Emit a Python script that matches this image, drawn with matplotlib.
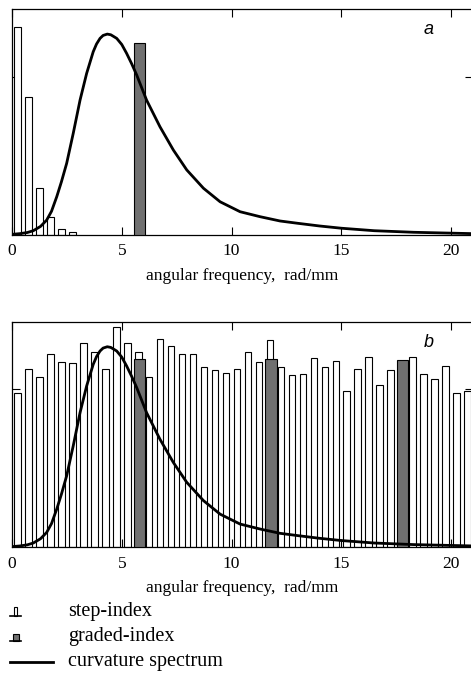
import numpy as np
import matplotlib
matplotlib.use("Agg")
import matplotlib.pyplot as plt
from matplotlib.patches import Rectangle

plt.rcParams['font.family'] = ['Liberation Serif', 'DejaVu Serif']

# step-index spectrum, panel a (only first few nonzero)
step_a_x = [0.25, 0.75, 1.25, 1.75, 2.25, 2.75]
step_a_h = [0.919, 0.609, 0.207, 0.081, 0.025, 0.012]

# step-index spectrum, panel b
step_b_x = np.arange(0.25, 21.0, 0.5)
step_b_h = [0.684, 0.792, 0.756, 0.857, 0.823, 0.815, 0.906, 0.864, 0.792, 0.977,
            0.906, 0.864, 0.756, 0.923, 0.892, 0.857, 0.857, 0.798, 0.786, 0.774,
            0.792, 0.864, 0.823, 0.917, 0.798, 0.762, 0.768, 0.839, 0.798, 0.827,
            0.691, 0.792, 0.843, 0.721, 0.786, 0.800, 0.843, 0.768, 0.745, 0.802,
            0.684, 0.694]

# graded-index
graded_a_x = [5.8]
graded_a_h = [0.848]
graded_b_x = [5.8, 11.8, 17.8]
graded_b_h = [0.835, 0.835, 0.832]

# curvature spectrum
curve_x = [0.0, 0.36, 0.7, 0.97, 1.3, 1.58, 1.8, 2.04, 2.25, 2.49, 2.79, 3.10,
           3.40, 3.70, 3.85, 4.01, 4.15, 4.34, 4.50, 4.62, 4.77, 5.0, 5.22, 5.45,
           5.68, 6.13, 6.74, 7.35, 7.96, 8.72, 9.48, 10.39, 11.30, 12.21, 13.0,
           14.0, 15.0, 16.5, 18.3, 21.0]
curve_y = [0.003, 0.006, 0.011, 0.019, 0.038, 0.066, 0.105, 0.17, 0.235, 0.317,
           0.45, 0.597, 0.715, 0.811, 0.845, 0.870, 0.883, 0.889, 0.886, 0.879,
           0.870, 0.843, 0.804, 0.758, 0.708, 0.597, 0.479, 0.376, 0.288, 0.207,
           0.147, 0.103, 0.081, 0.062, 0.052, 0.040, 0.030, 0.019, 0.012, 0.006]

W, H = 471, 675
fig = plt.figure(figsize=(W / 100, H / 100), dpi=100)


def panel(top_px, bot_px, sx, sh, gx, gh, letter):
    ax = fig.add_axes([12 / W, 1 - bot_px / H, 461 / W, (bot_px - top_px) / H])
    ax.bar(sx, sh, width=0.3, facecolor='white', edgecolor='black', linewidth=0.8, zorder=2)
    ax.bar(gx, gh, width=0.52, facecolor='#707070', edgecolor='black', linewidth=0.8, zorder=3)
    ax.plot(curve_x, curve_y, color='black', lw=2.0, zorder=4, solid_joinstyle='round')
    ax.set_xlim(0, 21)
    ax.set_ylim(0, 1)
    ax.set_xticks([0, 5, 10, 15, 20])
    ax.set_yticks([0.7])
    ax.set_yticklabels([])
    ax.tick_params(direction='in', top=True, right=True, length=6, width=0.8,
                   labelsize=12.5, pad=6)
    for s in ax.spines.values():
        s.set_linewidth(0.9)
    ax.text(0.903, 0.91, letter, transform=ax.transAxes, fontsize=13,
            style='italic', family='Liberation Sans', ha='center', va='center')
    ax.set_xlabel('angular frequency,  rad/mm', fontsize=12.5, labelpad=6)
    return ax


panel(9, 235, step_a_x, step_a_h, graded_a_x, graded_a_h, 'a')
panel(321.7, 547.3, step_b_x, step_b_h, graded_b_x, graded_b_h, 'b')

# legend area in pixel coordinates
lg = fig.add_axes([0, 0, 1, 1 - 595 / H])
lg.set_xlim(0, W)
lg.set_ylim(H, 595)
lg.axis('off')
# step-index icon
lg.plot([10, 21], [616, 616], color='black', lw=1.2)
lg.add_patch(Rectangle((14, 607), 3, 9, facecolor='white', edgecolor='black', lw=0.8))
# graded-index icon
lg.plot([10, 21], [641, 641], color='black', lw=1.2)
lg.add_patch(Rectangle((12.5, 634), 6, 7, facecolor='#707070', edgecolor='black', lw=0.8))
# curve icon
lg.plot([10, 53], [661.5, 661.5], color='black', lw=2.0)
for y, t in [(611.5, 'step-index'), (636.5, 'graded-index'), (661.5, 'curvature spectrum')]:
    lg.text(68, y, t, fontsize=14.5, ha='left', va='center')

fig.savefig('out.png', dpi=100)
